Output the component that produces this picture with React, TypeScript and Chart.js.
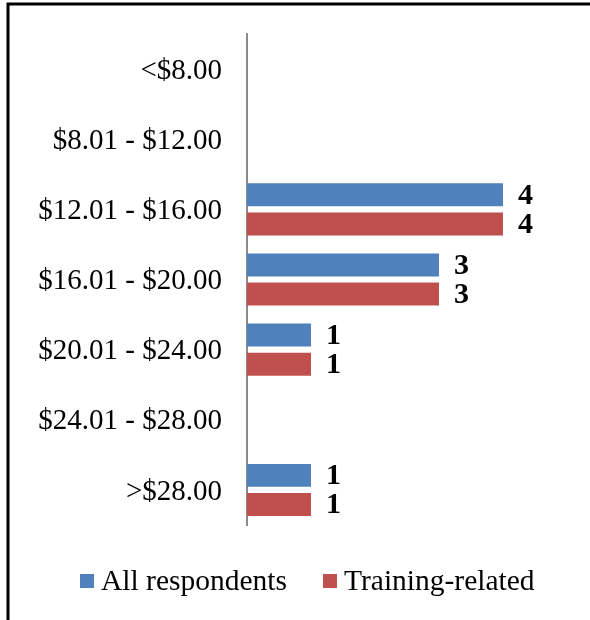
import React, { useEffect, useRef } from "react";
import { Chart, registerables } from "chart.js";

Chart.register(...registerables);

const categories = [
  "<$8.00",
  "$8.01 - $12.00",
  "$12.01 - $16.00",
  "$16.01 - $20.00",
  "$20.01 - $24.00",
  "$24.01 - $28.00",
  ">$28.00",
];
const allRespondents = [0, 0, 4, 3, 1, 0, 1];
const trainingRelated = [0, 0, 4, 3, 1, 0, 1];
const seriesNames = ["All respondents", "Training-related"];
const seriesColors = ["#4F81BD", "#C0504D"];

const FONT = '"Liberation Serif", "Times New Roman", serif';

const framePlugin = {
  id: "frame",
  beforeDraw(chart: any) {
    const ctx = chart.ctx;
    ctx.save();
    ctx.fillStyle = "#ffffff";
    ctx.fillRect(0, 0, chart.width, chart.height);
    ctx.strokeStyle = "#000000";
    ctx.lineWidth = 3;
    ctx.beginPath();
    ctx.moveTo(8, chart.height);
    ctx.lineTo(8, 4);
    ctx.lineTo(chart.width, 4);
    ctx.stroke();
    ctx.restore();
  },
};

const valueLabelPlugin = {
  id: "valueLabels",
  afterDatasetsDraw(chart: any) {
    const ctx = chart.ctx;
    ctx.save();
    ctx.font = `bold 30px ${FONT}`;
    ctx.fillStyle = "#000000";
    ctx.textAlign = "left";
    ctx.textBaseline = "middle";
    chart.data.datasets.forEach((ds: any, di: number) => {
      const meta = chart.getDatasetMeta(di);
      meta.data.forEach((bar: any, i: number) => {
        const v = ds.data[i];
        if (!v) return;
        ctx.fillText(String(v), bar.x + 15, bar.y + 1);
      });
    });
    ctx.restore();
  },
};

const legendPlugin = {
  id: "customLegend",
  afterDraw(chart: any) {
    const ctx = chart.ctx;
    ctx.save();
    ctx.font = `29.5px ${FONT}`;
    ctx.textBaseline = "middle";
    ctx.textAlign = "left";
    let x = 80;
    const y = 581;
    chart.data.datasets.forEach((ds: any) => {
      ctx.fillStyle = ds.backgroundColor;
      ctx.fillRect(x, y - 7, 14, 14);
      ctx.fillStyle = "#000000";
      ctx.fillText(ds.label, x + 21, y + 1);
      x += 21 + ctx.measureText(ds.label).width + 36;
    });
    ctx.restore();
  },
};

export default function App() {
  const ref = useRef<HTMLCanvasElement | null>(null);

  useEffect(() => {
    if (!ref.current) return;
    const chart = new Chart(ref.current, {
      type: "bar",
      data: {
        labels: categories,
        datasets: [
          {
            label: seriesNames[0],
            data: allRespondents,
            backgroundColor: seriesColors[0],
            categoryPercentage: 0.83,
            barPercentage: 0.79,
          },
          {
            label: seriesNames[1],
            data: trainingRelated,
            backgroundColor: seriesColors[1],
            categoryPercentage: 0.83,
            barPercentage: 0.79,
          },
        ],
      },
      options: {
        indexAxis: "y",
        animation: false,
        responsive: false,
        devicePixelRatio: 1,
        layout: { padding: { top: 34, bottom: 95, left: 0, right: 23 } },
        plugins: {
          legend: { display: false },
          tooltip: { enabled: false },
          title: { display: false },
        },
        scales: {
          x: { display: false, min: 0, max: 5 },
          y: {
            afterFit(scale: any) {
              scale.width = 247;
              scale.paddingTop = 0;
              scale.paddingBottom = 0;
            },
            grid: { display: false, drawTicks: false },
            border: { display: true, color: "#8a8a8a", width: 2 },
            ticks: {
              color: "#000000",
              padding: 25,
              labelOffset: 2,
              font: { family: FONT, size: 29 },
            },
          },
        },
      },
      plugins: [framePlugin, valueLabelPlugin, legendPlugin],
    } as any);
    return () => chart.destroy();
  }, []);

  return (
    <div style={{ position: "fixed", left: 0, top: 0, width: 590, height: 620 }}>
      <canvas ref={ref} width={590} height={620} style={{ display: "block", width: 590, height: 620 }} />
    </div>
  );
}
